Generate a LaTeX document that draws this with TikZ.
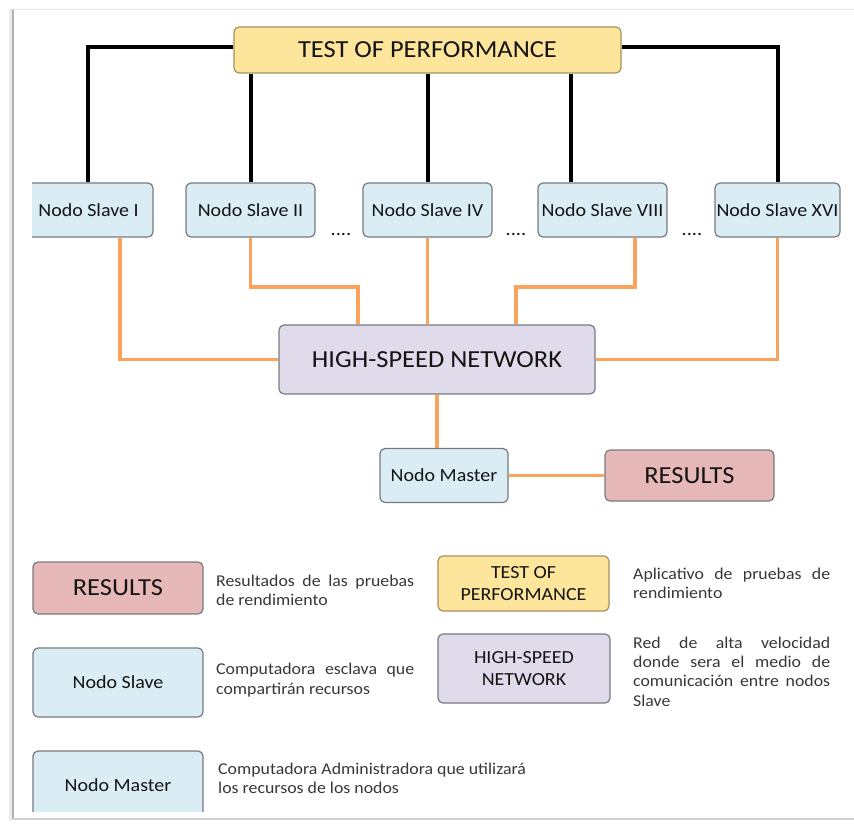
\documentclass[tikz,border=0pt]{standalone}
\usepackage{fontspec}
\setmainfont{Carlito}[FakeStretch=1.08]
\usetikzlibrary{calc}

\definecolor{ylw}{RGB}{253,229,155}
\definecolor{ylwedge}{RGB}{165,145,95}
\definecolor{blu}{RGB}{219,237,244}
\definecolor{lav}{RGB}{224,219,234}
\definecolor{pnk}{RGB}{230,184,183}
\definecolor{edge}{RGB}{120,122,126}
\definecolor{orng}{RGB}{249,163,92}
\definecolor{ink}{RGB}{20,20,20}
\definecolor{desc}{RGB}{55,55,55}

\begin{document}
\begin{tikzpicture}[x=1pt,y=-1pt,
  box/.style={draw=edge, line width=1.2pt, rounded corners=5pt, inner sep=0pt,
              text=ink, align=center, font=\fontsize{18.5}{21.5}\selectfont},
  bigtxt/.style={font=\fontsize{24.5}{28}\selectfont},
  slavebox/.style={box, fill=blu, minimum height=54pt},
  blk/.style={line width=4pt, black},
  orl/.style={line width=3.8pt, orng},
  dots/.style={inner sep=0pt, anchor=base, text=ink, font=\fontsize{19}{20}\selectfont},
  desctxt/.style={inner sep=0pt, anchor=west, text=desc, align=left,
                  font=\fontsize{16.5}{19.3}\selectfont}]

\useasboundingbox (0,0) rectangle (854,825);

% page frame with soft shadow
\draw[line width=3pt, black!8] (10.5,9) -- (10.5,821);
\draw[line width=1.4pt, black!30] (13,819) -- (13,9);
\draw[line width=1pt, black!10] (13,9) -- (854,9);
\draw[line width=1.4pt, black!18] (13,819) -- (854,819);

\begin{scope}
\clip (32,0) rectangle (854,811);

% ---------- main diagram ----------
\node[box, bigtxt, fill=ylw, draw=ylwedge, minimum width=387pt, minimum height=46pt]
  (test) at (427.5,50) {TEST OF PERFORMANCE};

\node[slavebox, minimum width=131pt] (sI)    at (87.5,210)  {\hspace*{2pt}Nodo Slave I};
\node[slavebox, minimum width=129pt] (sII)   at (250.5,210) {Nodo Slave II};
\node[slavebox, minimum width=129pt] (sIV)   at (427.5,210) {Nodo Slave IV};
\node[slavebox, minimum width=129pt] (sVIII) at (602.5,210) {Nodo Slave VIII};
\node[slavebox, minimum width=125pt] (sXVI)  at (777.5,210) {Nodo Slave XVI};

\node[dots] (d1) at (341,235) {....};
\node[dots] (d2) at (516,235) {....};
\node[dots] (d3) at (692,235) {....};

\node[box, bigtxt, fill=lav, minimum width=316pt, minimum height=69pt]
  (hsn) at (437,359.5) {HIGH-SPEED NETWORK};

\node[box, fill=blu, minimum width=128pt, minimum height=54pt]
  (master) at (444,475.5) {Nodo Master};
\node[box, bigtxt, fill=pnk, minimum width=169pt, minimum height=51pt]
  (results) at (689.5,475.5) {RESULTS};

% helper coordinates for connector routing
\coordinate (yTop) at (0,47);
\coordinate (x571) at (571,0);
\coordinate (x120) at (120,0);
\coordinate (x635) at (635,0);
\coordinate (x437) at (437,0);
\coordinate (bend2) at (358,287);
\coordinate (bend8) at (516,287);

% test of performance to the slaves
\draw[blk] (test.west |- yTop) -| (sI.north);
\draw[blk] (test.east |- yTop) -| (sXVI.north);
\draw[blk] (sII.north |- test.south) -- (sII.north);
\draw[blk] (sIV.north |- test.south) -- (sIV.north);
\draw[blk] (x571 |- test.south) -- (x571 |- sVIII.north);

% slaves to the network
\draw[orl] (x120 |- sI.south) |- (hsn.west);
\draw[orl] (sXVI.south) |- (hsn.east);
\draw[orl] (sII.south) |- (bend2) -- (bend2 |- hsn.north);
\draw[orl] (sIV.south) -- (sIV.south |- hsn.north);
\draw[orl] (x635 |- sVIII.south) |- (bend8) -- (bend8 |- hsn.north);

% network to master, master to results
\draw[orl] (x437 |- hsn.south) -- (x437 |- master.north);
\draw[orl] (master.east) -- (master.east -| results.west);

% ---------- legend ----------
\node[box, bigtxt, fill=pnk, minimum width=170pt, minimum height=52pt]
  (lr) at (118,588) {RESULTS};
\node[box, fill=blu, minimum width=170pt, minimum height=69pt]
  (ls) at (118,682.5) {Nodo Slave};
\node[box, fill=blu, minimum width=170pt, minimum height=69pt]
  (lm) at (118,785.5) {Nodo Master};
\node[box, fill=ylw, draw=ylwedge, minimum width=171pt, minimum height=55pt]
  (lt) at (523.5,583.5) {TEST OF\\PERFORMANCE};
\node[box, fill=lav, minimum width=172pt, minimum height=69pt]
  (lh) at (524,668.5) {HIGH-SPEED\\[0.5pt]NETWORK};

\node[desctxt] (dr) at (216,590)
  {\makebox[198pt][s]{Resultados de las pruebas}\\de rendimiento};
\node[desctxt] (ds) at (216,680)
  {\makebox[198pt][s]{Computadora esclava que}\\compartirán recursos};
\node[desctxt] (dm) at (218,778.5)
  {Computadora Administradora que utilizará\\los recursos de los nodos};
\node[desctxt] (dt) at (633,583)
  {\makebox[197pt][s]{Aplicativo de pruebas de}\\rendimiento};
\node[desctxt] (dh) at (633,671.5)
  {\makebox[197pt][s]{Red de alta velocidad}\\
   \makebox[197pt][s]{donde sera el medio de}\\
   \makebox[197pt][s]{comunicación entre nodos}\\Slave};
\end{scope}
\end{tikzpicture}
\end{document}
